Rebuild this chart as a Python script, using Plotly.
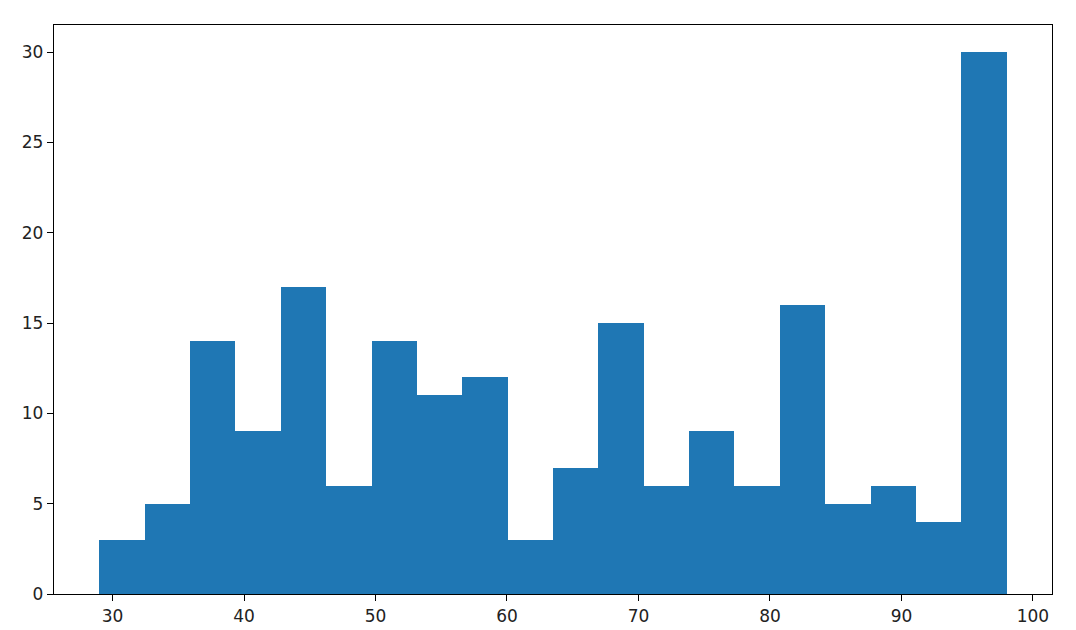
import plotly.graph_objects as go

# histogram: 20 equal bins between lo and hi
lo = 29.0
hi = 98.0
counts = [3, 5, 14, 9, 17, 6, 14, 11, 12, 3, 7, 15, 6, 9, 6, 16, 5, 6, 4, 30]
x_ticks = [30, 40, 50, 60, 70, 80, 90, 100]
y_ticks = [0, 5, 10, 15, 20, 25, 30]

n = len(counts)
w = (hi - lo) / n
centers = [lo + w * (i + 0.5) for i in range(n)]

fig = go.Figure(go.Bar(
    x=centers,
    y=counts,
    width=w,
    marker=dict(color='#1f77b4', line=dict(width=0)),
))

axis_style = dict(
    showgrid=False,
    zeroline=False,
    showline=True,
    linecolor='black',
    linewidth=1.3,
    mirror=True,
    ticks='outside',
    ticklen=6,
    tickwidth=1.2,
    tickcolor='black',
    tickfont=dict(family='DejaVu Sans', size=17, color='#222'),
)

fig.update_xaxes(range=[lo - 0.05 * (hi - lo), hi + 0.05 * (hi - lo)],
                 tickvals=x_ticks, **axis_style)
fig.update_yaxes(range=[0, 31.5], tickvals=y_ticks, **axis_style)

# page body adds an 8px offset, margins compensate
fig.update_layout(
    width=1076,
    height=630,
    margin=dict(l=46, r=32, t=17, b=36),
    plot_bgcolor='white',
    paper_bgcolor='white',
    showlegend=False,
    bargap=0,
)

fig.write_html("out.html")
